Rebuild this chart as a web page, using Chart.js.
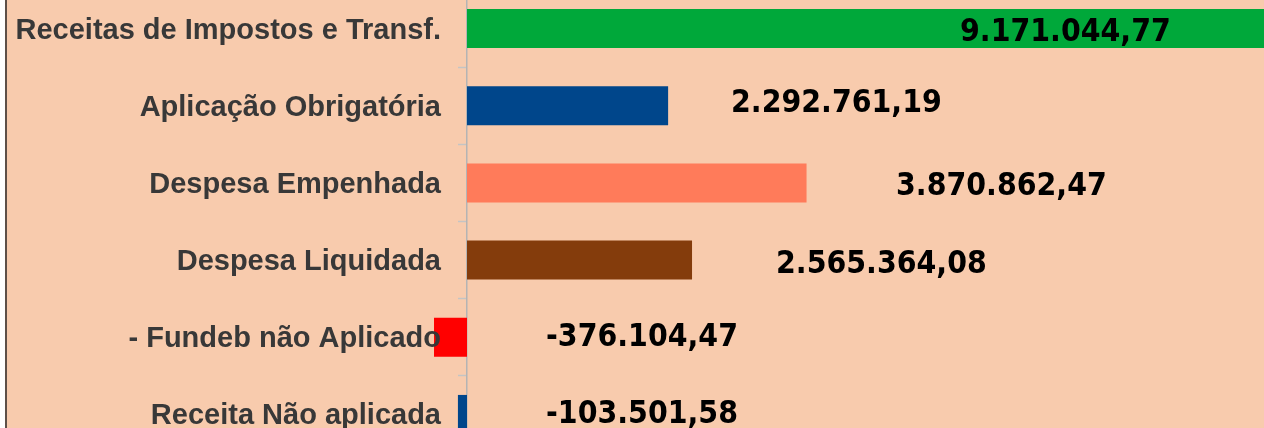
<!DOCTYPE html>
<html><head><meta charset="utf-8">
<script src="https://cdn.jsdelivr.net/npm/chart.js@4"></script>
<style>
html,body{margin:0;padding:0;background:#fff;overflow:hidden;width:1264px;height:428px;}
#wrap{position:absolute;left:5px;top:-10px;width:1257px;height:463px;border-left:2px solid #5e5048;background:#F8CBAD;}
</style></head><body>
<div id="wrap"><canvas id="c"></canvas></div>
<script>
const categories = ['Receitas de Impostos e Transf.','Aplicação Obrigatória','Despesa Empenhada','Despesa Liquidada','- Fundeb não Aplicado','Receita Não aplicada'];
const values = [9171044.77, 2292761.19, 3870862.47, 2565364.08, -376104.47, -103501.58];
const barColors = ['#00A83A','#00468B','#FF7B5A','#843C0C','#FF0000','#00468B'];
const axisMin = -5244000;
const axisMax = 9085800;

function fmtBR(v){
  const neg = v < 0;
  const s = Math.abs(v).toFixed(2);
  const [ip, dp] = s.split('.');
  let out = '';
  for (let i = 0; i < ip.length; i++) {
    if (i > 0 && (ip.length - i) % 3 === 0) out += '.';
    out += ip[i];
  }
  return (neg ? '-' : '') + out + ',' + dp;
}

const labelPlugin = {
  id: 'labels',
  afterDatasetsDraw(chart, args, opts) {
    const ctx = chart.ctx;
    const ys = chart.scales.y, xs = chart.scales.x;
    const zero = xs.getPixelForValue(0);
    ctx.save();
    ctx.font = 'bold 29px "Liberation Sans", Arial, sans-serif';
    ctx.fillStyle = '#383838';
    ctx.textAlign = 'right';
    ctx.textBaseline = 'middle';
    chart.data.labels.forEach((lab, i) => {
      const py = ys.getPixelForValue(i) + opts.catDy;
      ctx.save();
      ctx.translate(zero - opts.catGap, py);
      ctx.scale(opts.catScaleX, 1);
      ctx.fillText(lab, 0, 0);
      ctx.restore();
    });
    ctx.font = 'bold 32px "DejaVu Sans", Verdana, sans-serif';
    ctx.fillStyle = '#000';
    ctx.textAlign = 'left';
    const meta = chart.getDatasetMeta(0);
    const data = chart.data.datasets[0].data;
    meta.data.forEach((bar, i) => {
      const sh = opts.valueShift[i];
      ctx.save();
      ctx.translate(zero + sh[0], bar.y + sh[1]);
      ctx.scale(opts.valScaleX, 1);
      ctx.fillText(fmtBR(data[i]), 0, 0);
      ctx.restore();
    });
    ctx.restore();
  }
};

new Chart(document.getElementById('c'), {
  type: 'bar',
  data: {
    labels: categories,
    datasets: [{
      data: values,
      backgroundColor: barColors,
      borderWidth: 0,
      barPercentage: 0.505,
      categoryPercentage: 1
    }]
  },
  options: {
    indexAxis: 'y',
    responsive: true,
    maintainAspectRatio: false,
    animation: false,
    layout: { padding: 0 },
    plugins: {
      legend: { display: false },
      tooltip: { enabled: false },
      labels: {
        catGap: 26, catDy: 2, catScaleX: 1,
        valScaleX: 0.89,
        valueShift: [[493, 4.5], [264, -2.5], [429, 3.5], [309, 4.5], [79, 0.5], [79, 0.5]]
      }
    },
    scales: {
      x: { display: false, min: axisMin, max: axisMax },
      y: {
        position: { x: 0 },
        ticks: { display: false },
        grid: { display: true, drawOnChartArea: false, drawTicks: true, tickLength: 8, tickColor: '#c4c4c4', tickWidth: 1.5, offset: true },
        border: { display: true, color: '#b4b4b4', width: 1.5 }
      }
    }
  },
  plugins: [labelPlugin]
});
</script>
</body></html>
